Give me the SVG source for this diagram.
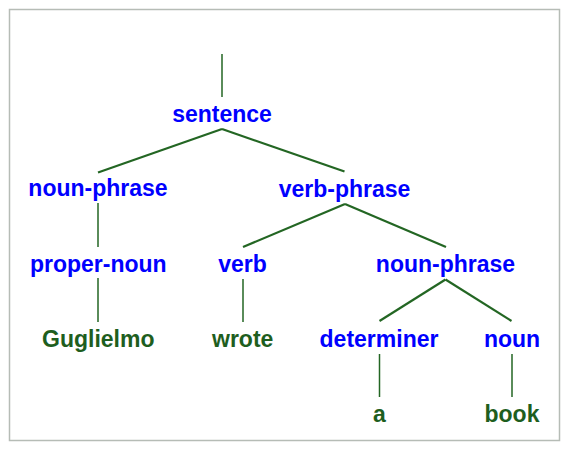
<svg xmlns="http://www.w3.org/2000/svg" width="571" height="453" viewBox="0 0 571 453">
<style>
.n{font-family:"Liberation Sans",Arial,sans-serif;font-weight:bold;font-size:23px;text-anchor:middle;fill:#0000ff}
.w{fill:#1e5e1e}
.c line{stroke:#236623;fill:none}
.d{stroke-width:2.2}
.v{stroke-width:1.5}
</style>
<rect x="9.5" y="9.5" width="550" height="431" fill="#fff" stroke="#b6bcb6" stroke-width="1.5"/>
<g class="c" id="connectors">
<line class="v" x1="222" y1="54" x2="222" y2="97"/>
<line class="d" x1="222" y1="129" x2="98" y2="172.5"/>
<line class="d" x1="222" y1="129" x2="344.5" y2="171.5"/>
<line class="v" x1="98" y1="203" x2="98" y2="247"/>
<line class="v" x1="98" y1="278" x2="98" y2="322"/>
<line class="d" x1="345" y1="204" x2="243" y2="247"/>
<line class="d" x1="345" y1="204" x2="446" y2="247"/>
<line class="v" x1="243" y1="279" x2="243" y2="322"/>
<line class="d" x1="445.5" y1="279.5" x2="379.5" y2="321"/>
<line class="d" x1="445.5" y1="279.5" x2="511.5" y2="321"/>
<line class="v" x1="379.5" y1="354" x2="379.5" y2="397"/>
<line class="v" x1="512" y1="354" x2="512" y2="397"/>
</g>
<g id="sentence"><text class="n" x="222" y="122">sentence</text></g>
<g id="noun-phrase-1"><text class="n" x="98" y="196">noun-phrase</text></g>
<g id="verb-phrase"><text class="n" x="344.5" y="196.5">verb-phrase</text></g>
<g id="proper-noun"><text class="n" x="98.3" y="271.5">proper-noun</text></g>
<g id="verb"><text class="n" x="242.5" y="271.5">verb</text></g>
<g id="noun-phrase-2"><text class="n" x="445.5" y="271.5">noun-phrase</text></g>
<g id="guglielmo"><text class="n w" x="98.3" y="346.5">Guglielmo</text></g>
<g id="wrote"><text class="n w" x="242.7" y="346.5">wrote</text></g>
<g id="determiner"><text class="n" x="379" y="346.5">determiner</text></g>
<g id="noun"><text class="n" x="512" y="346.5">noun</text></g>
<g id="a"><text class="n w" x="379.5" y="421.5">a</text></g>
<g id="book"><text class="n w" x="512" y="421.5">book</text></g>
</svg>
